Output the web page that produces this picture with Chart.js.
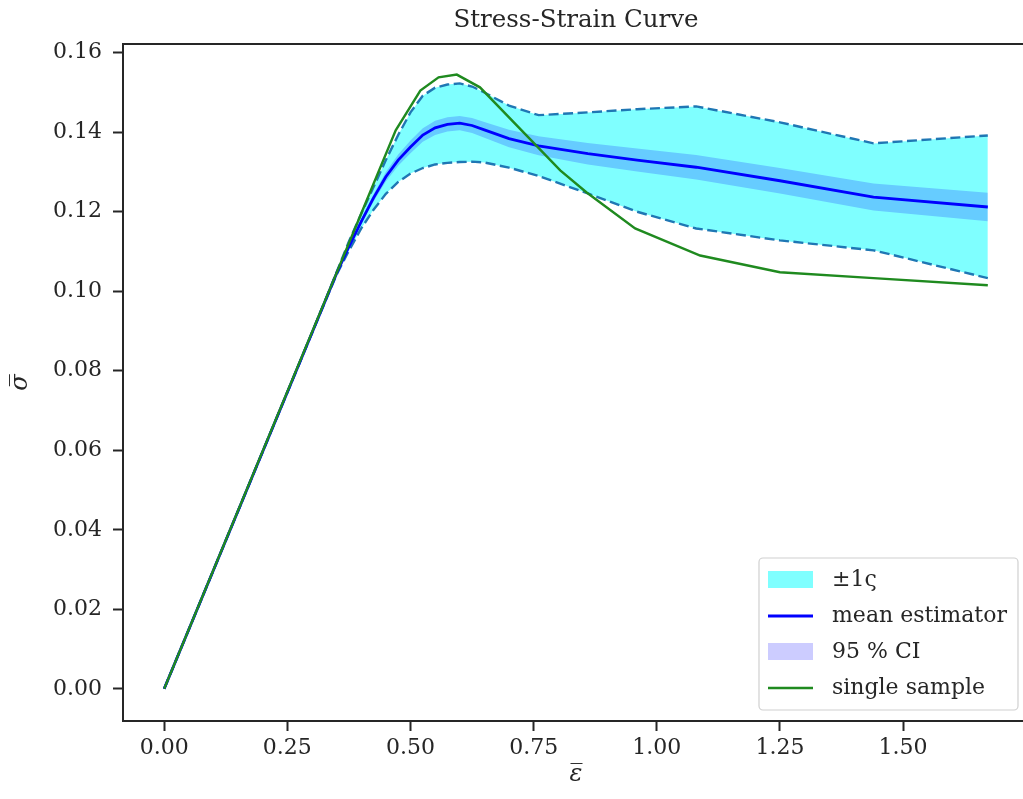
<!DOCTYPE html>
<html>
<head>
<meta charset="utf-8">
<script src="https://cdn.jsdelivr.net/npm/chart.js@4.4.1/dist/chart.umd.min.js"></script>
<style>
  html, body { margin: 0; padding: 0; background: #fff; overflow: hidden; }
  #wrap { position: absolute; left: 0; top: 0; width: 1040px; height: 799px; }
</style>
</head>
<body>
<div id="wrap"><canvas id="myChart" width="1040" height="799"></canvas></div>
<script>
// strain grid shared by the mean, the band and the CI
var strain = [0, 0.30, 0.35, 0.375, 0.40, 0.425, 0.45, 0.475, 0.50, 0.525, 0.55, 0.575, 0.60, 0.625, 0.65, 0.70, 0.76, 0.86, 0.96, 1.08, 1.25, 1.44, 1.672];
var meanStress  = [0, 0.0895, 0.1045, 0.1112, 0.1175, 0.1235, 0.1288, 0.1330, 0.1363, 0.1393, 0.1411, 0.1420, 0.1423, 0.1417, 0.1406, 0.1384, 0.1366, 0.1346, 0.1330, 0.1312, 0.1278, 0.1237, 0.1212];
var upperStress = [0, 0.0895, 0.1048, 0.1125, 0.1195, 0.1262, 0.1330, 0.1393, 0.1450, 0.1492, 0.1512, 0.1520, 0.1523, 0.1515, 0.1500, 0.1467, 0.1443, 0.1450, 0.1458, 0.1465, 0.1425, 0.1372, 0.1392];
var lowerStress = [0, 0.0895, 0.1042, 0.1102, 0.1158, 0.1205, 0.1245, 0.1275, 0.1296, 0.1310, 0.1319, 0.1323, 0.1325, 0.1326, 0.1324, 0.1311, 0.1290, 0.1246, 0.1200, 0.1158, 0.1128, 0.1103, 0.1033];
var ciUpper = [0, 0.0895, 0.1047, 0.1116, 0.1181, 0.1244, 0.1300, 0.1344, 0.1379, 0.1410, 0.1429, 0.1438, 0.1441, 0.1436, 0.1426, 0.1406, 0.1390, 0.1373, 0.1359, 0.1343, 0.1310, 0.1271, 0.1248];
var ciLower = [0, 0.0895, 0.1043, 0.1108, 0.1169, 0.1226, 0.1276, 0.1316, 0.1347, 0.1376, 0.1393, 0.1402, 0.1405, 0.1398, 0.1386, 0.1362, 0.1342, 0.1319, 0.1301, 0.1281, 0.1246, 0.1203, 0.1176];

// single sample curve
var sampleStrain = [0, 0.47, 0.52, 0.557, 0.594, 0.641, 0.804, 0.857, 0.956, 1.088, 1.25, 1.44, 1.672];
var sampleStress = [0, 0.1405, 0.1505, 0.1538, 0.1545, 0.1513, 0.1304, 0.1249, 0.1158, 0.1090, 0.1048, 0.1033, 0.1015];

var xTicks = [0, 0.25, 0.5, 0.75, 1.0, 1.25, 1.5];
var yTicks = [0, 0.02, 0.04, 0.06, 0.08, 0.10, 0.12, 0.14, 0.16];

var FONT = "'DejaVu Serif', serif";
var INK = '#262626';

function pts(xs, ys) {
    return xs.map(function (x, i) { return { x: x, y: ys[i] }; });
}

// top spine
var topSpine = {
    id: 'topSpine',
    afterDraw: function (chart) {
        var c = chart.ctx, a = chart.chartArea;
        c.save();
        c.strokeStyle = INK;
        c.lineWidth = 2;
        c.beginPath();
        c.moveTo(a.left - 1, a.top);
        c.lineTo(a.right, a.top);
        c.stroke();
        c.restore();
    }
};

// legend box in the lower right of the axes
var boxLegend = {
    id: 'boxLegend',
    afterDraw: function (chart) {
        var c = chart.ctx;
        var order = [4, 1, 2, 0];
        var x0 = 759, y0 = 558, w = 259, h = 152;
        c.save();
        c.fillStyle = 'rgba(255,255,255,0.8)';
        c.strokeStyle = '#d0d0d0';
        c.lineWidth = 1.2;
        c.beginPath();
        c.roundRect(x0, y0, w, h, 4);
        c.fill();
        c.stroke();
        c.font = '22px ' + FONT;
        c.textBaseline = 'middle';
        order.forEach(function (idx, k) {
            var ds = chart.data.datasets[idx];
            var cy = 580 + k * 36;
            if (ds.fill) {
                c.fillStyle = ds.backgroundColor;
                c.fillRect(768, cy - 9, 45, 17);
            } else {
                c.strokeStyle = ds.borderColor;
                c.lineWidth = ds.borderWidth;
                c.beginPath();
                c.moveTo(768, cy);
                c.lineTo(813, cy);
                c.stroke();
            }
            c.fillStyle = INK;
            c.fillText(ds.label, 832, cy);
        });
        c.restore();
    }
};

var ctx = document.getElementById('myChart').getContext('2d');
var myChart = new Chart(ctx, {
    type: 'line',
    data: {
        datasets: [{
            label: 'single sample',
            data: pts(sampleStrain, sampleStress),
            borderColor: '#1f8a1f',
            borderWidth: 2.4,
            fill: false
        },
        {
            label: 'mean estimator',
            data: pts(strain, meanStress),
            borderColor: '#0000ff',
            borderWidth: 2.8,
            fill: false
        },
        {
            label: '95 % CI',
            data: pts(strain, ciUpper),
            borderColor: 'transparent',
            borderWidth: 0,
            backgroundColor: 'rgba(0,0,255,0.2)',
            fill: '+1'
        },
        {
            label: 'ci low',
            data: pts(strain, ciLower),
            borderColor: 'transparent',
            borderWidth: 0,
            fill: false
        },
        {
            label: '\u00b11\u03c2',
            data: pts(strain, upperStress),
            borderColor: '#1f77b4',
            borderWidth: 2.4,
            borderDash: [10, 4.5],
            backgroundColor: 'rgba(0,255,255,0.5)',
            fill: '+1'
        },
        {
            label: 'band low',
            data: pts(strain, lowerStress),
            borderColor: '#1f77b4',
            borderWidth: 2.4,
            borderDash: [10, 4.5],
            fill: false
        }]
    },
    options: {
        responsive: false,
        animation: false,
        devicePixelRatio: 1,
        elements: {
            point: { radius: 0 },
            line: { tension: 0 }
        },
        layout: { padding: { left: 0, right: 11, top: 0, bottom: 0 } },
        plugins: {
            legend: { display: false },
            tooltip: { enabled: false },
            filler: { drawTime: 'beforeDatasetsDraw' },
            title: {
                display: true,
                fullSize: false,
                text: 'Stress-Strain Curve',
                color: INK,
                font: { family: FONT, size: 24.5, weight: 'normal' },
                padding: { top: 5.6, bottom: 9 }
            }
        },
        scales: {
            x: {
                type: 'linear',
                min: -0.0836,
                max: 1.7556,
                afterFit: function (s) { s.height = 78; },
                afterBuildTicks: function (s) { s.ticks = xTicks.map(function (v) { return { value: v }; }); },
                border: { display: true, color: INK, width: 2 },
                grid: { drawOnChartArea: false, drawTicks: true, tickLength: 10, tickWidth: 2, tickColor: INK, color: INK },
                ticks: {
                    color: INK,
                    padding: 4,
                    maxRotation: 0,
                    font: { family: FONT, size: 22 },
                    callback: function (v) { return v.toFixed(2); }
                },
                title: {
                    display: true,
                    text: '\u03b5\u0305',
                    color: INK,
                    font: { family: FONT, size: 24, style: 'italic' },
                    padding: { top: 0, bottom: 10 }
                }
            },
            y: {
                type: 'linear',
                min: -0.0081,
                max: 0.1622,
                afterFit: function (s) { s.width = 123; },
                afterBuildTicks: function (s) { s.ticks = yTicks.map(function (v) { return { value: v }; }); },
                border: { display: true, color: INK, width: 2 },
                grid: { drawOnChartArea: false, drawTicks: true, tickLength: 10, tickWidth: 2, tickColor: INK, color: INK },
                ticks: {
                    color: INK,
                    padding: 11,
                    font: { family: FONT, size: 22 },
                    callback: function (v) { return v.toFixed(2); }
                },
                title: {
                    display: true,
                    text: '\u03c3\u0305',
                    color: INK,
                    font: { family: FONT, size: 24, style: 'italic' },
                    padding: { top: 6, bottom: 0 }
                }
            }
        }
    },
    plugins: [topSpine, boxLegend]
});
</script>
</body>
</html>
